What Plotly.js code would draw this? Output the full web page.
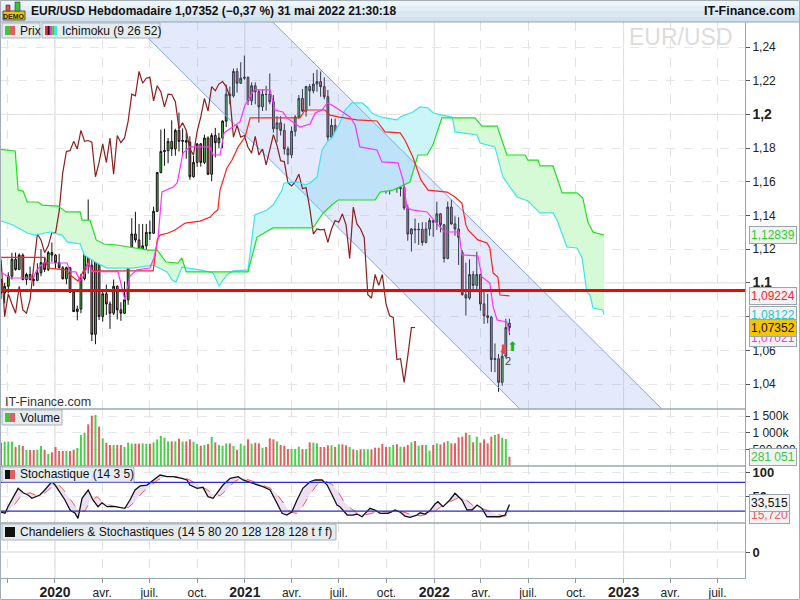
<!DOCTYPE html>
<html>
<head>
<meta charset="utf-8">
<script src="https://cdn.plot.ly/plotly-3.0.1.min.js"></script>
<style>
  html, body { margin: 0; padding: 0; background: #fff; }
  #chart { width: 800px; height: 600px; }
</style>
</head>
<body>
<div id="chart"></div>
<script>
/* ============================================================
   EUR/USD weekly - Ichimoku / Volume / Stochastique
   week index 0 = first visible candle (sept. 2019)
   ============================================================ */

const opens = [
  1.1018,1.0940,1.0980,1.1040,1.1140,1.1080,1.1165,1.1020,1.1050,1.1020,
  1.1015,1.1060,1.1120,1.1080,1.1180,1.1165,1.1120,1.1090,1.1025,1.1090,
  1.0945,1.0830,1.0845,1.1025,1.1280,1.1105,1.0695,1.1140,1.0800,1.0935,
  1.0875,1.0820,1.0980,1.0840,1.0820,1.0900,1.1100,1.1290,1.1255,1.1180,
  1.1220,1.1300,1.1295,1.1425,1.1655,1.1780,1.1785,1.1840,1.1795,1.1905,
  1.1840,1.1845,1.1835,1.1630,1.1715,1.1825,1.1715,1.1860,1.1645,1.1875,
  1.1832,1.1860,1.1960,1.2120,1.2110,1.2255,1.2185,1.2215,1.2220,1.2080,
  1.2170,1.2135,1.2045,1.2120,1.2120,1.2075,1.1915,1.1950,1.1905,1.1795,
  1.1760,1.1900,1.1985,1.2095,1.2020,1.2165,1.2140,1.2180,1.2195,1.2165,
  1.2105,1.1865,1.1935,1.1865,1.1875,1.1805,1.1770,1.1870,1.1760,1.1795,
  1.1700,1.1795,1.1880,1.1815,1.1725,1.1720,1.1595,1.1575,1.1600,1.1645,
  1.1560,1.1565,1.1445,1.1290,1.1320,1.1315,1.1318,1.1240,1.1320,1.1370,
  1.1360,1.1410,1.1345,1.1145,1.1450,1.1350,1.1320,1.1180,1.0930,1.0910,
  1.1050,1.0985,1.1050,1.0875,1.0805,1.0795,1.0545,1.0550,1.0410,1.0565,
  1.0760
];
const highs = [
  1.1025,1.1000,1.1063,1.1179,1.1180,1.1175,1.1175,1.1060,1.1097,1.1040,
  1.1116,1.1200,1.1150,1.1190,1.1240,1.1170,1.1172,1.1100,1.1097,1.1095,
  1.0960,1.0865,1.1054,1.1355,1.1495,1.1236,1.1147,1.1147,1.0960,1.0990,
  1.0890,1.1020,1.0985,1.0885,1.1008,1.1147,1.1384,1.1422,1.1350,1.1350,
  1.1350,1.1370,1.1452,1.1655,1.1910,1.1915,1.1860,1.1965,1.1915,1.2011,
  1.1917,1.1900,1.1870,1.1755,1.1830,1.1830,1.1880,1.1870,1.1890,1.1920,
  1.1890,1.1965,1.2177,1.2165,1.2272,1.2275,1.2310,1.2349,1.2225,1.2190,
  1.2190,1.2150,1.2150,1.2170,1.2243,1.2115,1.1990,1.1990,1.1945,1.1810,
  1.1928,1.1995,1.2115,1.2150,1.2170,1.2180,1.2245,1.2265,1.2255,1.2220,
  1.2145,1.1975,1.1975,1.1895,1.1880,1.1830,1.1910,1.1910,1.1800,1.1805,
  1.1810,1.1910,1.1885,1.1850,1.1750,1.1725,1.1640,1.1625,1.1670,1.1692,
  1.1616,1.1605,1.1465,1.1325,1.1382,1.1355,1.1360,1.1360,1.1385,1.1375,
  1.1482,1.1415,1.1350,1.1483,1.1495,1.1395,1.1390,1.1195,1.1120,1.1140,
  1.1070,1.1185,1.1055,1.0955,1.0935,1.0805,1.0640,1.0578,1.0605,1.0787,
  1.0787
];
const lows = [
  1.0905,1.0879,1.0940,1.1020,1.1072,1.1075,1.1015,1.0989,1.1014,1.0981,
  1.1010,1.1040,1.1065,1.1070,1.1125,1.1085,1.1085,1.1020,1.0992,1.0940,
  1.0827,1.0778,1.0820,1.1015,1.1055,1.0655,1.0636,1.0780,1.0770,1.0810,
  1.0727,1.0810,1.0783,1.0775,1.0815,1.0870,1.1095,1.1240,1.1168,1.1170,
  1.1185,1.1255,1.1290,1.1420,1.1650,1.1695,1.1710,1.1753,1.1755,1.1780,
  1.1753,1.1737,1.1612,1.1625,1.1690,1.1690,1.1705,1.1640,1.1603,1.1745,
  1.1800,1.1800,1.1925,1.2060,1.2100,1.2130,1.2180,1.2205,1.2055,1.2055,
  1.2060,1.1952,1.2020,1.2022,1.2060,1.1892,1.1835,1.1875,1.1762,1.1704,
  1.1740,1.1870,1.1975,1.2015,1.1987,1.2050,1.2125,1.2135,1.2105,1.2090,
  1.1845,1.1850,1.1805,1.1782,1.1795,1.1752,1.1765,1.1755,1.1705,1.1665,
  1.1692,1.1790,1.1803,1.1700,1.1685,1.1563,1.1530,1.1525,1.1595,1.1535,
  1.1513,1.1432,1.1250,1.1186,1.1235,1.1225,1.1221,1.1235,1.1280,1.1273,
  1.1315,1.1300,1.1121,1.1140,1.1345,1.1280,1.1106,1.0925,1.0806,1.0900,
  1.0945,1.0945,1.0835,1.0757,1.0760,1.0472,1.0470,1.0354,1.0390,1.0555,
  1.0690
];
const closes = [
  1.0940,1.0980,1.1040,1.1140,1.1080,1.1165,1.1020,1.1050,1.1020,1.1015,
  1.1060,1.1120,1.1080,1.1180,1.1165,1.1120,1.1090,1.1025,1.1090,1.0945,
  1.0830,1.0845,1.1025,1.1280,1.1105,1.0695,1.1140,1.0800,1.0935,1.0875,
  1.0820,1.0980,1.0840,1.0820,1.0900,1.1100,1.1290,1.1255,1.1180,1.1220,
  1.1300,1.1295,1.1425,1.1655,1.1780,1.1785,1.1840,1.1795,1.1905,1.1840,
  1.1845,1.1835,1.1630,1.1715,1.1825,1.1715,1.1860,1.1645,1.1875,1.1832,
  1.1860,1.1960,1.2120,1.2110,1.2255,1.2185,1.2215,1.2220,1.2080,1.2170,
  1.2135,1.2045,1.2120,1.2118,1.2075,1.1915,1.1950,1.1905,1.1795,1.1760,
  1.1900,1.1985,1.2095,1.2020,1.2165,1.2140,1.2180,1.2195,1.2165,1.2105,
  1.1865,1.1935,1.1865,1.1875,1.1805,1.1770,1.1870,1.1760,1.1795,1.1700,
  1.1795,1.1880,1.1815,1.1725,1.1720,1.1595,1.1575,1.1600,1.1645,1.1560,
  1.1565,1.1445,1.1290,1.1320,1.1315,1.1318,1.1240,1.1320,1.1370,1.1360,
  1.1410,1.1345,1.1145,1.1450,1.1350,1.1320,1.1270,1.0930,1.0910,1.1050,
  1.0985,1.1050,1.0875,1.0805,1.0795,1.0545,1.0550,1.0410,1.0565,1.0735,
  1.07352
];
// volume in thousands
const volumesK = [
  700,
  730,735,735,570,630,600,480,480,480,480,
  600,480,360,410,570,450,450,450,450,480,
  540,930,1000,1250,1510,1530,1180,830,700,630,
  630,630,630,570,700,670,670,670,680,670,
  670,710,800,900,850,740,740,740,820,730,
  740,800,730,660,610,630,660,870,710,630,
  610,680,680,600,480,670,610,800,670,700,
  680,550,570,830,800,740,630,610,510,510,
  510,580,510,510,710,700,680,570,570,620,
  620,570,650,650,620,570,500,480,500,500,
  500,500,550,550,660,570,570,630,650,
  580,580,630,710,750,610,630,630,460,630,
  680,650,710,750,680,680,860,880,1000,930,
  710,880,700,800,680,880,930,960,850,810,281.051
];

// Ichimoku lines (week index, value)
const tenkanIdx = [-0.3,2.5,8.8,9.9,11.6,18.2,19.0,20.6,21.8,23.1,24.0,25.1,32.2,33.3,34.1,35.5,37.4,41.0,42.1,43.2,44.3,47.4,48.5,50.1,52.0,57.5,58.4,60.3,61.4,65.8,67.2,69.7,74.1,75.4,77.6,78.7,82.3,85.1,86.5,88.4,89.8,91.1,93.3,96.1,97.5,98.8,103.5,104.9,109.3,110.7,111.8,113.2,117.3,118.4,120.3,122.2,126.1,126.9,131.3,132.4,134.6,135.5,136.6,139.3,140];
const tenkanVals = [1.1067,1.1029,1.1029,1.1077,1.1118,1.1118,1.1067,1.1065,1.1011,1.1059,1.1118,1.1067,1.1067,1.0958,1.0899,1.1041,1.1077,1.1088,1.1148,1.1255,1.1540,1.1569,1.1593,1.1771,1.1807,1.1807,1.1759,1.1759,1.1890,1.1955,1.2056,1.2145,1.2145,1.2026,1.2014,1.1979,1.1925,1.1943,1.2008,1.2026,1.2068,1.2056,1.2026,1.1985,1.1937,1.1807,1.1789,1.1718,1.1712,1.1611,1.1445,1.1433,1.1421,1.1391,1.1344,1.1302,1.1302,1.1166,1.1160,1.1035,1.0999,1.0857,1.0780,1.0768,1.07021];

const kijunIdx = [-0.3,12.1,12.9,17.6,19.0,21.2,23.1,24.0,25.1,41.9,43.0,43.8,46.0,47.9,50.7,54.8,57.6,58.9,59.7,60.3,62.2,63.6,65.3,67.2,68.6,82.3,83.7,89.2,90.6,92.8,98.0,103.5,105.7,109.9,111.2,113.4,115.6,117.6,122.8,125.0,126.9,128.0,128.6,131.3,133.8,134.6,135.5,136.8,137.4,140];
const kijunVals = [1.1152,1.1152,1.1088,1.1077,1.1047,1.1011,1.1088,1.1120,1.1071,1.1071,1.1255,1.1284,1.1296,1.1314,1.1355,1.1367,1.1391,1.1421,1.1433,1.1551,1.1682,1.1729,1.1807,1.1866,1.1979,1.1979,1.2026,1.2026,1.1996,1.1985,1.1967,1.1961,1.1896,1.1890,1.1848,1.1747,1.1611,1.1551,1.1539,1.1510,1.1474,1.1344,1.1314,1.1255,1.1237,1.1207,1.1059,1.1035,1.0928,1.09224];

const senkouAIdx = [-0.3,3.3,7.2,9.4,13.5,14.9,16.8,18.2,21.8,22.9,26.4,29.2,36.3,41.9,45.7,47.1,48.2,49.8,50.6,54.8,57.2,58.4,60.0,62.2,63.5,63.9,68.0,69.9,73.2,74.9,77.4,77.9,81.8,83.7,85.1,87.0,88.4,89.8,91.1,93.3,94.7,96.6,99.4,100.8,102.1,104.4,109.0,109.9,113.4,115.4,117.6,119.0,121.4,124.0,124.3,125.0,131.1,131.9,136.0,138.2,142.1,145.1,147.0,148.4,152.0,153.1,155.8,158.6,160.0,161.3,162.2,163.0,165.7,166];
const senkouAVals = [1.1370,1.1344,1.1296,1.1284,1.1302,1.1296,1.1284,1.1243,1.1231,1.1166,1.1118,1.1088,1.1088,1.1106,1.1065,1.1017,1.1005,1.1094,1.1092,1.1077,1.1065,1.1059,1.0982,1.1047,1.1065,1.1071,1.1077,1.1403,1.1433,1.1462,1.1551,1.1593,1.1599,1.1581,1.1593,1.1628,1.1789,1.1836,1.1860,1.1949,1.2026,1.2068,1.2068,1.2044,1.2008,1.1985,1.1967,1.1985,1.2014,1.2044,1.2038,1.2008,1.1996,1.1985,1.1979,1.1896,1.1878,1.1830,1.1807,1.1628,1.1510,1.1486,1.1445,1.1415,1.1415,1.1373,1.1213,1.1207,1.1148,1.0946,1.0928,1.0851,1.0839,1.08122];

const senkouBIdx = [-0.3,3.9,4.7,6.1,7.2,10.2,11.3,15.7,17.9,21.8,22.3,24.5,26.2,28.4,31.9,40.5,43.0,45.4,48.7,49.8,50.6,51.0,57.2,63.5,68.0,70.5,74.9,85.9,88.7,91.1,92.8,103.0,104.4,107.9,112.6,114.8,117.3,118.9,120.3,121.4,124.3,130.5,132.4,136.6,139.3,144.3,145.1,147.9,148.4,152.0,154.5,158.6,160.2,161.6,163.0,166];
const senkouBVals = [1.1793,1.1783,1.1551,1.1545,1.1480,1.1480,1.1462,1.1456,1.1421,1.1421,1.1373,1.1373,1.1255,1.1231,1.1225,1.1195,1.1195,1.1124,1.1118,1.1148,1.1092,1.1065,1.1065,1.1065,1.1065,1.1272,1.1326,1.1326,1.1415,1.1462,1.1492,1.1492,1.1539,1.1551,1.1599,1.1759,1.1759,1.1818,1.1907,1.1979,1.1979,1.1979,1.1931,1.1931,1.1759,1.1759,1.1729,1.1729,1.1694,1.1694,1.1534,1.1534,1.1504,1.1361,1.1302,1.12839];

// week ranges where the span A is above span B (cyan cloud)
const cyanZones = [[50.6, 57.2], [63.5, 124.3]];

// Stochastique (14 3 5)
const stochKIdx = [-0.3,1.1,1.9,3.3,4.7,6.1,7.4,8.5,9.9,10.7,11.6,12.9,14.0,14.9,16.2,17.6,19.0,20.4,21.2,22.3,24.0,25.3,26.7,27.8,29.2,31.4,34.1,35.5,36.9,38.3,40.2,41.9,43.8,45.7,47.4,49.8,51.2,52.0,54.0,55.6,57.0,58.4,59.5,61.1,63.1,65.3,66.6,69.4,72.1,74.1,76.0,77.4,78.7,80.1,81.5,83.1,85.1,86.5,88.4,89.8,91.4,92.5,93.3,95.3,96.9,98.0,99.4,101.6,103.0,104.4,106.6,108.5,109.9,111.2,112.6,114.5,115.4,116.7,118.1,119.5,120.3,121.7,123.6,125.0,126.9,128.3,129.7,131.1,132.4,133.8,137.4,138.8,140];
const stochKVals = [18.5,15.2,29.0,49.9,67.4,58.2,53.4,46.5,51.4,53.4,60.3,70.8,81.2,74.3,60.3,43.0,22.1,15.2,4.7,46.5,63.9,43.0,29.0,37.3,29.0,29.0,25.6,43.0,63.9,72.3,74.3,84.8,95.2,91.7,91.7,88.3,84.8,74.3,67.4,69.5,49.9,46.5,57.0,74.3,88.3,91.7,84.8,77.9,70.8,63.9,36.1,15.2,11.6,18.5,43.0,67.4,81.2,84.8,84.8,74.3,49.9,32.5,29.0,11.6,11.6,13.7,8.1,25.6,22.1,15.2,15.2,22.1,17.9,9.5,6.8,11.6,16.4,13.7,20.6,34.6,39.4,29.0,43.0,57.0,43.0,22.1,22.1,32.5,25.6,8.1,8.1,11.6,33.515];
const stochDIdx = [-0.3,1.9,3.9,5.8,8.0,9.9,12.1,14.0,15.7,17.1,19.0,21.2,23.1,24.5,26.4,28.1,30.0,32.8,35.0,36.9,38.8,41.0,43.2,45.2,47.9,50.7,52.6,54.8,56.7,58.4,60.3,62.2,64.4,66.4,68.6,71.3,74.1,76.0,77.9,79.6,81.5,83.1,85.1,87.0,89.2,91.1,92.8,94.4,96.1,98.0,100.2,102.1,103.8,105.7,107.7,109.9,111.8,113.7,115.4,117.3,118.9,120.9,122.8,124.4,126.4,128.3,130.2,131.9,133.8,135.7,137.4,138.8,140];
const stochDVals = [20,18,35,55,58,52,58,70,76,65,45,22,20,40,50,38,32,28,27,40,58,72,85,92,92,89,82,72,65,55,52,65,82,89,84,76,68,55,35,18,15,30,55,75,83,76,60,40,27,16,12,15,20,18,17,20,16,11,10,14,16,28,36,42,50,42,30,26,22,15,11,9,15.72];

// drawn objects: descending channel and horizontal level
const channelDates = ['2020-04-16', '2021-01-12', '2023-04-25 14:00', '2022-07-25 16:00', '2020-04-16'];
const channelPrices = [1.2679, 1.2679, 1.0127, 1.0127, 1.2679];
const levelPrice = 1.0955;

const priceTicks = [1.04, 1.06, 1.08, 1.10, 1.12, 1.14, 1.16, 1.18, 1.20, 1.22, 1.24];
const quarterTicks = ['2019-10-01','2020-01-01','2020-04-01','2020-07-01','2020-10-01','2021-01-01','2021-04-01','2021-07-01','2021-10-01','2022-01-01','2022-04-01','2022-07-01','2022-10-01','2023-01-01','2023-04-01','2023-07-01'];
const quarterLabels = ['', '2020','avr.','juil.','oct.','2021','avr.','juil.','oct.','2022','avr.','juil.','oct.','2023','avr.','juil.'];
const yearTicks = ['2020-01-01','2021-01-01','2022-01-01','2023-01-01'];

/* ============================================================
     HELPERS
     ============================================================ */
const BASE = Date.UTC(2019, 8, 19);
const DAY = 86400000;
function wk(i) {
  return new Date(BASE + i * 7 * DAY).toISOString().slice(0, 16).replace('T', ' ');
}
// plot area is 0..745 px wide, 22..578 px high
const PW = 745, PT = 22, PB = 578;
function px(x) { return x / PW; }
function py(y) { return (PB - y) / (PB - PT); }
function fmt(v, d) { return v.toFixed(d).replace('.', ','); }
function part(idx, vals, a, b) {
  const x = [], y = [];
  idx.forEach((t, k) => {
    if (t >= a - 1e-9 && t <= b + 1e-9) { x.push(wk(t)); y.push(vals[k]); }
  });
  return { x, y };
}

const GREEN = '#46c846', RED = '#e06464';
const candleDates = closes.map((c, i) => wk(i));
const traces = [];

/* ========== CLOUD ========== */
traces.push({ x: senkouAIdx.map(wk), y: senkouAVals, mode: 'lines', line: { width: 0 }, hoverinfo: 'skip' });
traces.push({ x: senkouBIdx.map(wk), y: senkouBVals, mode: 'lines', line: { width: 0 },
  fill: 'tonexty', fillcolor: '#d6f9d6', hoverinfo: 'skip' });
cyanZones.forEach(([a, b]) => {
  const A = part(senkouAIdx, senkouAVals, a, b);
  const B = part(senkouBIdx, senkouBVals, a, b);
  traces.push({ x: A.x, y: A.y, mode: 'lines', line: { width: 0 }, hoverinfo: 'skip' });
  traces.push({ x: B.x, y: B.y, mode: 'lines', line: { width: 0 },
    fill: 'tonexty', fillcolor: '#ccf5fa', hoverinfo: 'skip' });
});

/* ========== CHANNEL ========== */
traces.push({ x: channelDates, y: channelPrices, mode: 'lines', fill: 'toself',
  fillcolor: 'rgba(150,175,240,0.26)', line: { color: '#82a3ea', width: 1 }, hoverinfo: 'skip' });

/* ========== CANDLES ========== */
traces.push({
  type: 'candlestick', x: candleDates, open: opens, high: highs, low: lows, close: closes,
  increasing: { line: { color: '#111', width: 1 }, fillcolor: GREEN },
  decreasing: { line: { color: '#111', width: 1 }, fillcolor: RED },
  whiskerwidth: 0, hoverinfo: 'skip'
});

/* ========== ICHIMOKU LINES ========== */
traces.push({ x: closes.map((c, i) => wk(i - 26)), y: closes, mode: 'lines',
  line: { color: '#8c1e1e', width: 1.2 }, hoverinfo: 'skip' });
traces.push({ x: senkouAIdx.map(wk), y: senkouAVals, mode: 'lines', line: { color: '#3fe3ee', width: 1.2 }, hoverinfo: 'skip' });
traces.push({ x: senkouBIdx.map(wk), y: senkouBVals, mode: 'lines', line: { color: '#1fe01f', width: 1.2 }, hoverinfo: 'skip' });
traces.push({ x: kijunIdx.map(wk), y: kijunVals, mode: 'lines', line: { color: '#ff2020', width: 1.2 }, hoverinfo: 'skip' });
traces.push({ x: tenkanIdx.map(wk), y: tenkanVals, mode: 'lines', line: { color: '#ff30ff', width: 1.2 }, hoverinfo: 'skip' });

/* ========== VOLUME ========== */
traces.push({
  type: 'bar', x: candleDates, y: volumesK.map(v => v * 1000), yaxis: 'y2',
  marker: { color: closes.map((c, i) => (c >= opens[i] ? '#4cd04c' : '#e06060')), line: { width: 0 } },
  hoverinfo: 'skip'
});

/* ========== STOCHASTIQUE ========== */
traces.push({ x: stochDIdx.map(wk), y: stochDVals, yaxis: 'y3', mode: 'lines',
  line: { color: '#ee5a5a', width: 1, dash: 'dash' }, hoverinfo: 'skip' });
traces.push({ x: stochKIdx.map(wk), y: stochKVals, yaxis: 'y3', mode: 'lines',
  line: { color: '#111', width: 1.3 }, fill: 'tonexty', fillcolor: 'rgba(205,170,220,0.38)', hoverinfo: 'skip' });

// empty panel (Chandeliers & Stochastiques)
traces.push({ x: [wk(0)], y: [null], yaxis: 'y4', mode: 'lines', hoverinfo: 'skip' });

/* ============================================================
     SHAPES
     ============================================================ */
const shapes = [];
['#eef5fa', '#e4eef6', '#dae7f1', '#d0e1ed'].forEach((c, k) => {
  shapes.push({ type: 'rect', xref: 'paper', yref: 'paper', x0: 0, x1: px(800),
    y0: py(5.5 * (k + 1)), y1: py(5.5 * k), fillcolor: c, line: { width: 0 } });
});
shapes.push({ type: 'line', xref: 'paper', yref: 'paper', x0: 0, x1: px(800), y0: 1, y1: 1, line: { color: '#8fa3b2', width: 1 } });

yearTicks.forEach(d => shapes.push({ type: 'line', xref: 'x', yref: 'paper', x0: d, x1: d, y0: 0, y1: 1,
  line: { color: '#dadada', width: 1 }, layer: 'below' }));
[1.1, 1.2].forEach(v => shapes.push({ type: 'line', xref: 'paper', yref: 'y', x0: 0, x1: 1, y0: v, y1: v,
  line: { color: '#dedede', width: 1 }, layer: 'below' }));

shapes.push({ type: 'line', xref: 'paper', yref: 'y', x0: 0, x1: 1, y0: levelPrice, y1: levelPrice,
  line: { color: '#ff0000', width: 3 } });
[80, 20].forEach(v => shapes.push({ type: 'line', xref: 'paper', yref: 'y3', x0: 0, x1: 1, y0: v, y1: v,
  line: { color: '#2a2ad6', width: 1.2 } }));
shapes.push({ type: 'line', xref: 'paper', yref: 'y4', x0: 0, x1: 1, y0: 0, y1: 0, line: { color: '#d6d6d6', width: 1 }, layer: 'below' });

[409, 466, 523].forEach(y => shapes.push({ type: 'line', xref: 'paper', yref: 'paper', x0: 0, x1: 1,
  y0: py(y), y1: py(y), line: { color: '#9aa7af', width: 1.5 } }));
shapes.push({ type: 'rect', xref: 'paper', yref: 'paper', x0: px(0.5), x1: px(799.5), y0: py(599.5), y1: py(0.5),
  line: { color: '#a3aeb6', width: 1 } });

// DEMO badge
shapes.push({ type: 'rect', xref: 'paper', yref: 'paper', x0: px(3), x1: px(25), y0: py(20), y1: py(11),
  fillcolor: '#f2c200', line: { color: '#555', width: 1 } });
shapes.push({ type: 'rect', xref: 'paper', yref: 'paper', x0: px(6), x1: px(10), y0: py(11), y1: py(5),
  fillcolor: '#e05050', line: { color: '#333', width: 0.6 } });
shapes.push({ type: 'rect', xref: 'paper', yref: 'paper', x0: px(15), x1: px(20), y0: py(11), y1: py(2),
  fillcolor: '#40c040', line: { color: '#333', width: 0.6 } });

/* ============================================================
     PANEL LEGENDS (box + icon + label)
     ============================================================ */
const annotations = [];
function legendBox(x0, x1, y0, y1, label, icons) {
  shapes.push({ type: 'rect', xref: 'paper', yref: 'paper', x0: px(x0), x1: px(x1), y0: py(y1), y1: py(y0),
    fillcolor: '#e5ecf0', line: { color: '#a7b3bb', width: 1 } });
  let ix = x0 + 3;
  icons.forEach(([c, w]) => {
    shapes.push({ type: 'rect', xref: 'paper', yref: 'paper', x0: px(ix), x1: px(ix + w), y0: py(y1 - 3), y1: py(y0 + 3),
      fillcolor: c, line: { width: 0 } });
    ix += w;
  });
  annotations.push({ xref: 'paper', yref: 'paper', x: px(ix + 3), y: py((y0 + y1) / 2), xanchor: 'left', yanchor: 'middle',
    text: label, showarrow: false, font: { size: 12, color: '#111' } });
}
legendBox(2, 40, 23, 38, 'Prix', [['#3cc83c', 5], ['#e06060', 5]]);
legendBox(42, 160, 23, 38, 'Ichimoku (9 26 52)',
  [['#ff2020', 2.4], ['#111', 2.4], ['#ff30ff', 2.4], ['#1fe01f', 2.4], ['#3fe3ee', 2.4]]);
legendBox(2, 62, 410, 425, 'Volume', [['#3cc83c', 5], ['#e06060', 5]]);
legendBox(2, 134, 467, 482, 'Stochastique (14 3 5)', [['#111', 5], ['#e06060', 5]]);
legendBox(2, 336, 524, 540, 'Chandeliers &amp; Stochastiques (14 5 80 20 128 128 128 t f f)', [['#111', 10]]);

/* ============================================================
     OTHER TEXTS
     ============================================================ */
function valueBox(y, yref, text, color, bg, shift) {
  return { xref: 'paper', yref, x: px(749), y, xanchor: 'left', yanchor: 'middle', text, yshift: shift || 0,
    showarrow: false, bgcolor: bg || '#f3f3f3', bordercolor: '#9aa5b0', borderwidth: 1, borderpad: 1,
    font: { size: 12, color } };
}
const last = (a) => a[a.length - 1];

annotations.push(
  { xref: 'paper', yref: 'paper', x: px(29), y: py(11), xanchor: 'left', yanchor: 'middle', showarrow: false,
    text: '<b>EUR/USD Hebdomadaire 1,07352 (−0,37 %) 31 mai 2022 21:30:18</b>', font: { size: 12, color: '#111' } },
  { xref: 'paper', yref: 'paper', x: px(797), y: py(11), xanchor: 'right', yanchor: 'middle', showarrow: false,
    text: '<b>IT-Finance.com</b>', font: { size: 12.5, color: '#111' } },
  { xref: 'paper', yref: 'paper', x: px(14), y: py(16), xanchor: 'center', yanchor: 'middle', showarrow: false,
    text: '<b>DEMO</b>', font: { size: 7, color: '#222' } },

  { xref: 'paper', yref: 'paper', x: px(735), y: py(37), xanchor: 'right', yanchor: 'middle', showarrow: false,
    text: 'EUR/USD', font: { size: 23, color: '#dcdcdc' } },
  { xref: 'paper', yref: 'paper', x: px(3), y: py(402), xanchor: 'left', yanchor: 'middle', showarrow: false,
    text: 'IT-Finance.com', font: { size: 12.5, color: '#333' } },

  valueBox(last(senkouBVals), 'y', fmt(last(senkouBVals), 5), '#1fd21f'),
  valueBox(last(kijunVals), 'y', fmt(last(kijunVals), 5), '#ff2020'),
  valueBox(last(tenkanVals), 'y', fmt(last(tenkanVals), 5), '#ff30ff', null, -5),
  valueBox(last(senkouAVals), 'y', fmt(last(senkouAVals), 5), '#22c8cc'),
  valueBox(last(closes), 'y', fmt(last(closes), 5), '#111', '#f6c400'),
  valueBox(last(volumesK) * 1000, 'y2', '281 051', '#3cc83c'),
  valueBox(last(stochDVals), 'y3', fmt(last(stochDVals), 3), '#ee5a5a', null, -2),
  valueBox(last(stochKVals), 'y3', fmt(last(stochKVals), 3), '#111', null, 2),

  { x: wk(138.3), y: 1.0605, xref: 'x', yref: 'y', text: '⬇', showarrow: false, font: { size: 13, color: '#ee4444' } },
  { x: wk(140.8), y: 1.0625, xref: 'x', yref: 'y', text: '⬆', showarrow: false, font: { size: 13, color: '#22b022' } },
  { x: wk(139.6), y: 1.0535, xref: 'x', yref: 'y', text: '2', showarrow: false, font: { size: 11, color: '#444' } }
);

/* ============================================================
     LAYOUT
     ============================================================ */
const axisLine = '#9aa7af';
const layout = {
  width: 800, height: 600,
  margin: { l: 0, r: 55, t: 22, b: 22, pad: 0 },
  paper_bgcolor: '#fff', plot_bgcolor: '#fff',
  showlegend: false, separators: ', ', bargap: 0.45,
  font: { family: 'Liberation Sans, Arial, sans-serif', size: 12, color: '#222' },
  xaxis: {
    type: 'date', range: ['2019-09-17', '2023-08-23'], anchor: 'y4', domain: [0, 1],
    tickmode: 'array', tickvals: quarterTicks,
    ticktext: quarterLabels.map(l => (/^\d{4}$/.test(l) ? `<b><span style="font-size:14px">${l}</span></b>` : l)),
    showgrid: true, gridcolor: '#e2e2e2', griddash: 'dash', ticks: 'outside', ticklen: 4, tickcolor: '#8a969e',
    showline: true, linecolor: axisLine, zeroline: false, rangeslider: { visible: false }, fixedrange: true,
    tickfont: { size: 12, color: '#222' }
  },
  yaxis: {
    domain: [py(409), 1], range: [1.02516, 1.25484], side: 'right', anchor: 'x',
    tickmode: 'array', tickvals: priceTicks,
    ticktext: priceTicks.map(v => (Math.abs(v - 1.1) < 1e-9 || Math.abs(v - 1.2) < 1e-9
      ? `<b><span style="font-size:14px">${fmt(v, 1)}</span></b>` : fmt(v, 2))),
    showgrid: true, gridcolor: '#e6e6e6', griddash: 'dash', ticks: 'outside', ticklen: 4, tickcolor: '#555',
    showline: true, linecolor: axisLine, zeroline: false, fixedrange: true
  },
  yaxis2: {
    domain: [py(466), py(409)], range: [0, 1710000], side: 'right', anchor: 'x',
    tickmode: 'array', tickvals: [500000, 1000000, 1500000], ticktext: ['500 000', '1 000k', '1 500k'],
    showgrid: true, gridcolor: '#e6e6e6', griddash: 'dash', ticks: 'outside', ticklen: 4, tickcolor: '#555',
    showline: true, linecolor: axisLine, zeroline: false, fixedrange: true
  },
  yaxis3: {
    domain: [py(523), py(466)], range: [-5, 114], side: 'right', anchor: 'x',
    tickmode: 'array', tickvals: [50, 100], ticktext: ['<b>50</b>', '<b>100</b>'],
    showgrid: true, gridcolor: '#e6e6e6', griddash: 'dash', ticks: 'outside', ticklen: 4, tickcolor: '#555',
    showline: true, linecolor: axisLine, zeroline: false, fixedrange: true, tickfont: { size: 13 }
  },
  yaxis4: {
    domain: [0, py(523)], range: [-1, 1.115], side: 'right', anchor: 'x',
    tickmode: 'array', tickvals: [0], ticktext: ['<b>0</b>'],
    showgrid: false, ticks: 'outside', ticklen: 4, tickcolor: '#555',
    showline: true, linecolor: axisLine, zeroline: false, fixedrange: true, tickfont: { size: 13 }
  },
  shapes, annotations
};

Plotly.newPlot('chart', traces, layout, { staticPlot: true, displayModeBar: false });
</script>
</body>
</html>
